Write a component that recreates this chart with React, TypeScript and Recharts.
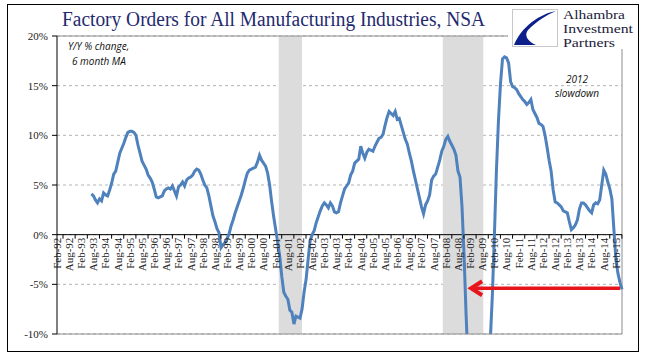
import React from 'react';
import { LineChart, Line, XAxis, YAxis, CartesianGrid, ReferenceLine, ReferenceArea, ReferenceDot } from 'recharts';

// x axis: months counted from Feb-92 (index 0)
const tickLabels = [
  'Feb-92', 'Aug-92', 'Feb-93', 'Aug-93', 'Feb-94', 'Aug-94', 'Feb-95', 'Aug-95',
  'Feb-96', 'Aug-96', 'Feb-97', 'Aug-97', 'Feb-98', 'Aug-98', 'Feb-99', 'Aug-99',
  'Feb-00', 'Aug-00', 'Feb-01', 'Aug-01', 'Feb-02', 'Aug-02', 'Feb-03', 'Aug-03',
  'Feb-04', 'Aug-04', 'Feb-05', 'Aug-05', 'Feb-06', 'Aug-06', 'Feb-07', 'Aug-07',
  'Feb-08', 'Aug-08', 'Feb-09', 'Aug-09', 'Feb-10', 'Aug-10', 'Feb-11', 'Aug-11',
  'Feb-12', 'Aug-12', 'Feb-13', 'Aug-13', 'Feb-14', 'Aug-14', 'Feb-15',
];
const monthsPerLabel = 6;

// first value is Jul-93
const firstMonth = 17;
// Y/Y % change, 6 month MA
const values = [
  4.1, 3.9, 3.5, 3.2, 3.6, 3.4, // 1993 Jul-Dec
  4.2, 4.0, 3.9, 4.5, 5.2, 6.1, 6.4, 7.3, 8.2, 8.7, 9.2, 9.8, // 1994
  10.3, 10.4, 10.4, 10.3, 10.0, 9.0, 8.2, 7.4, 7.0, 6.6, 6.0, 5.7, // 1995
  5.3, 4.6, 3.8, 3.7, 3.8, 3.9, 4.4, 4.6, 4.7, 4.6, 4.9, 4.4, // 1996
  3.9, 4.8, 5.0, 5.3, 4.9, 5.5, 5.7, 5.8, 6.0, 6.4, 6.6, 6.5, // 1997
  6.1, 5.5, 5.0, 4.7, 3.9, 2.9, 1.9, 1.3, 0.6, 0.2, -1.3, -1.0, // 1998
  -0.8, -0.4, 0.1, 0.9, 1.5, 2.2, 2.8, 3.4, 4.0, 4.7, 5.5, 6.2, // 1999
  6.5, 6.6, 6.7, 6.8, 7.3, 8.0, 7.5, 7.2, 6.9, 6.2, 5.0, 3.3, // 2000
  1.8, 0.5, -0.8, -2.2, -4.2, -5.8, -6.2, -6.5, -7.6, -7.8, -9.0, -8.2, // 2001
  -8.3, -8.4, -7.5, -5.8, -4.5, -2.5, -0.6, 0.0, 0.4, 1.2, 1.8, 2.4, // 2002
  2.9, 3.2, 3.0, 2.7, 3.2, 2.9, 2.3, 2.2, 2.3, 3.2, 3.9, 4.6, // 2003
  4.9, 5.2, 6.0, 6.4, 7.2, 7.4, 7.6, 8.9, 8.2, 7.7, 8.3, 8.6, // 2004
  8.5, 8.4, 8.9, 9.3, 9.7, 9.8, 10.1, 11.0, 11.8, 12.4, 12.2, 12.0, // 2005
  12.4, 11.6, 11.7, 11.0, 10.3, 9.6, 9.1, 8.2, 7.4, 6.4, 5.5, 4.6, // 2006
  3.7, 2.8, 2.1, 3.0, 3.4, 4.0, 5.5, 5.9, 6.1, 6.8, 7.5, 8.4, // 2007
  8.9, 9.6, 9.9, 9.4, 9.0, 8.6, 8.0, 6.4, 5.8, 2.8, -2.0, -8.0, // 2008
  -13.0, -18.0, -22.0, -25.0, -27.0, -28.0, -27.5, -25.0, -21.0, -17.0, -13.5, -10.5, // 2009
  -6.0, 0.0, 6.5, 11.5, 15.2, 17.7, 17.9, 17.8, 17.3, 15.4, 14.9, 14.8, // 2010
  14.6, 14.2, 13.9, 13.6, 13.4, 13.1, 13.3, 13.6, 12.6, 12.2, 11.8, 11.2, // 2011
  11.1, 10.9, 10.0, 8.8, 7.5, 6.4, 4.5, 3.3, 3.2, 3.0, 2.8, 2.4, // 2012
  2.3, 2.2, 1.3, 0.5, 0.7, 1.0, 1.5, 2.6, 3.2, 3.2, 3.0, 2.7, // 2013
  2.4, 2.2, 3.0, 3.2, 3.1, 3.5, 5.0, 6.5, 6.1, 5.3, 4.6, 3.6, // 2014
  0.5, -2.5, -3.9, -4.8, -5.5, // 2015 Jan-May
];

// recession shading, in months from Feb-92
const recessions = [
  { from: 109.5, to: 121 },
  { from: 190.5, to: 210.5 },
];

const yTicks = [-10, -5, 0, 5, 10, 15, 20];

// red arrow pointing back to the 2009 level
const arrow = { from: 278, to: 204, level: -5.4 };

const data = values.map((v, k) => ({ m: firstMonth + k, v }));
const lastMonth = firstMonth + values.length - 1;
const xTicks = tickLabels.map((_, k) => k * monthsPerLabel);

const W = 667;
const H = 358;
const TOP = 36;
const X_AXIS_H = 24;
const PLOT_H = H - TOP - X_AXIS_H;
const Y_MIN = -10;
const Y_MAX = 20;
const ZERO_OFFSET = (PLOT_H * (0 - Y_MIN)) / (Y_MAX - Y_MIN);

const serif = '"Liberation Serif", "Times New Roman", serif';
const italicSans = '"Open Sans", sans-serif';

const XTick = ({ x, y, payload }: any) => {
  const y0 = y - ZERO_OFFSET;
  const label = tickLabels[Math.round(payload.value / monthsPerLabel)];
  return (
    <g>
      <line x1={x + 6} x2={x + 6} y1={y0} y2={y0 + 4} stroke="#000" />
      <text
        x={x}
        y={y0 + 3}
        transform={`rotate(-90, ${x}, ${y0 + 3})`}
        textAnchor="end"
        dy="0.35em"
        fontSize={11}
        fontFamily={serif}
        fill="#222"
      >
        {label}
      </text>
    </g>
  );
};

const ArrowHead = ({ cx, cy }: any) => (
  <path
    d={`M${cx + 12},${cy - 7} L${cx + 1},${cy} L${cx + 12},${cy + 7}`}
    stroke="#e8141c"
    strokeWidth={4}
    fill="none"
  />
);

export default function App() {
  return (
    <div style={{ position: 'absolute', left: 0, top: 0, width: W, height: H, background: '#fff' }}>
      <LineChart width={W} height={H} data={data} margin={{ top: TOP, right: 45, bottom: 0, left: 0 }}>
        <CartesianGrid vertical={false} stroke="#b4b4b4" strokeDasharray="3 3" />
        {recessions.map((r, k) => (
          <ReferenceArea key={k} x1={r.from} x2={r.to} y1={Y_MIN} y2={Y_MAX} fill="#dcdcdc" fillOpacity={1} stroke="none" />
        ))}
        <XAxis
          type="number"
          dataKey="m"
          domain={[0, lastMonth]}
          ticks={xTicks}
          interval={0}
          height={X_AXIS_H}
          tickSize={0}
          tickMargin={0}
          tickLine={false}
          axisLine={{ stroke: '#8c8c8c' }}
          tick={<XTick />}
        />
        <YAxis
          type="number"
          domain={[Y_MIN, Y_MAX]}
          ticks={yTicks}
          interval={0}
          allowDataOverflow
          width={57}
          tickSize={5}
          tickMargin={4}
          axisLine={{ stroke: '#000' }}
          tickLine={{ stroke: '#000' }}
          tick={{ fontSize: 11, fontFamily: serif, fill: '#222' }}
          tickFormatter={(v: number) => `${v}%`}
        />
        <ReferenceLine y={Y_MAX} stroke="#8c8c8c" />
        <ReferenceLine x={lastMonth} stroke="#8c8c8c" />
        <ReferenceLine y={0} stroke="#000" />
        <Line
          type="linear"
          dataKey="v"
          stroke="#4f81bd"
          strokeWidth={3}
          dot={false}
          isAnimationActive={false}
        />
        <ReferenceLine
          segment={[{ x: arrow.to + 1, y: arrow.level }, { x: arrow.from, y: arrow.level }]}
          stroke="#e8141c"
          strokeWidth={3.5}
        />
        <ReferenceDot x={arrow.to} y={arrow.level} r={1} shape={<ArrowHead />} />
      </LineChart>

      <svg width={W} height={H} style={{ position: 'absolute', left: 0, top: 0, pointerEvents: 'none' }}>
        <rect x={7.5} y={4.5} width={631} height={347} fill="none" stroke="#000" />
        <text x={62} y={26} fontSize={20} fontFamily={serif} fill="#1f2a6e" textLength={423} lengthAdjust="spacingAndGlyphs">
          Factory Orders for All Manufacturing Industries, NSA
        </text>

        <rect x={508} y={6} width={129} height={43} fill="#fff" />
        <rect x={512.5} y={9.5} width={45} height={37} fill="#fff" stroke="#c8c8c8" />
        <path d="M556,11 C540,14 522,26 514,45 L536,45 C527,41 524,35 528,30 C536,22 546,15 556,11 Z" fill="#0d1f8a" />
        <g fontSize={12.5} fontFamily={serif} fill="#1b1b3a">
          <text x={563} y={19} textLength={62} lengthAdjust="spacingAndGlyphs">Alhambra</text>
          <text x={563} y={33} textLength={70} lengthAdjust="spacingAndGlyphs">Investment</text>
          <text x={563} y={47} textLength={52} lengthAdjust="spacingAndGlyphs">Partners</text>
        </g>

        <text fontSize={10} fontStyle="italic" fontFamily={italicSans} fill="#111">
          <tspan x={68} y={50}>Y/Y % change,</tspan>
          <tspan x={72} y={65}>6 month MA</tspan>
        </text>
        <text fontSize={10} fontStyle="italic" fontFamily={italicSans} fill="#111" textAnchor="middle">
          <tspan x={577} y={83}>2012</tspan>
          <tspan x={577} y={97}>slowdown</tspan>
        </text>
      </svg>
    </div>
  );
}
